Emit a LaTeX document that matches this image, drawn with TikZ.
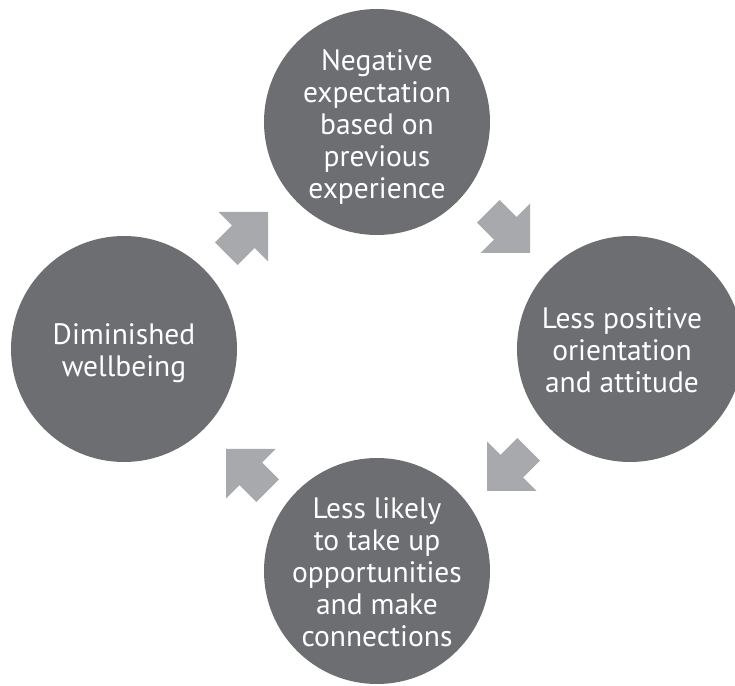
\documentclass[tikz,border=0pt]{standalone}
\usepackage{fontspec}
\setmainfont{PT Sans}
\definecolor{circgrey}{HTML}{6D6E71}
\definecolor{arrgrey}{HTML}{A7A9AC}
\tikzset{
  circ/.style={circle, fill=circgrey, draw=none, minimum size=226pt, inner sep=0pt},
  txt/.style={text=white, align=center, font=\fontsize{29.5}{32}\selectfont, inner sep=0pt},
  fatarrow/.style={fill=arrgrey, draw=none}
}
\begin{document}
\begin{tikzpicture}[x=1pt,y=1pt]
\useasboundingbox (0,0) rectangle (735,685);
\fill[white] (0,0) rectangle (735,685);
% circles
\node[circ] (top) at (377,563) {};
\node[txt] (toplabel) at (377,558) {Negative\\expectation\\based on\\previous\\experience};
\node[circ] (left) at (124,336) {};
\node[txt] (leftlabel) at (124,332) {Diminished\\wellbeing};
\node[circ] (right) at (630,336) {};
\node[txt] (rightlabel) at (622,335) {Less positive\\orientation\\and attitude};
\node[circ] (bottom) at (377,114) {};
\node[txt] (bottomlabel) at (377,113) {Less likely\\to take up\\opportunities\\and make\\connections};
% arrow tips
\coordinate (ne) at (268,473);
\coordinate (se) at (530,432);
\coordinate (sw) at (487,194);
\coordinate (nw) at (226,236);
\foreach \c/\a in {ne/45, se/-45, sw/-135, nw/135}{
  \fill[fatarrow, shift={(\c)}, rotate=\a]
    (0,0) -- (-35,35) -- (-35,16) -- (-59,16) -- (-59,-16) -- (-35,-16) -- (-35,-35) -- cycle;
}
\end{tikzpicture}
\end{document}
